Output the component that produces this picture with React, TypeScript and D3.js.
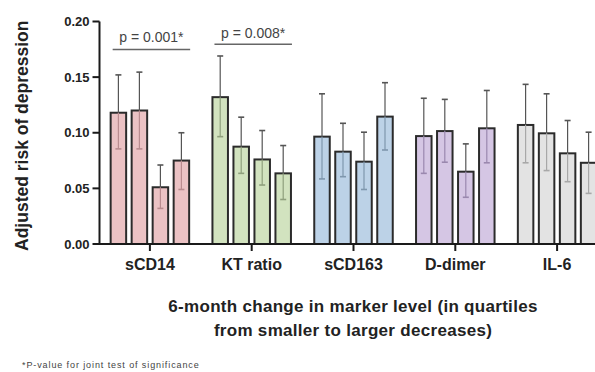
import React from "react";
import * as d3 from "d3";

const categories = ["sCD14", "KT ratio", "sCD163", "D-dimer", "IL-6"];
const quartiles = ["Q1", "Q2", "Q3", "Q4"];
// point estimates per category, Q1..Q4
const values = [
  [0.118, 0.120, 0.051, 0.075],
  [0.132, 0.0875, 0.076, 0.0635],
  [0.0965, 0.083, 0.074, 0.1145],
  [0.097, 0.1015, 0.065, 0.104],
  [0.107, 0.0995, 0.0815, 0.073],
];
const upper = [
  [0.152, 0.1545, 0.071, 0.100],
  [0.169, 0.114, 0.102, 0.0885],
  [0.135, 0.1085, 0.1005, 0.145],
  [0.131, 0.130, 0.090, 0.138],
  [0.1435, 0.135, 0.111, 0.1005],
];
const lower = [
  [0.0855, 0.0855, 0.032, 0.049],
  [0.0965, 0.0635, 0.053, 0.040],
  [0.0585, 0.0605, 0.049, 0.0845],
  [0.0635, 0.0735, 0.042, 0.073],
  [0.073, 0.066, 0.056, 0.0455],
];
const yTicks = [0, 0.05, 0.1, 0.15, 0.2];
const fills = ["#ebc2c4", "#d2e3bf", "#bcd2e7", "#d5c6e4", "#e3e3e3"];
const lowerStroke = ["#b98c8f", "#8fa07d", "#7f97ad", "#9a88ae", "#a8a8a8"];
const pAnnotations = [
  { cat: 0, label: "p = 0.001*", level: 0.1748, textLevel: 0.1816 },
  { cat: 1, label: "p = 0.008*", level: 0.1795, textLevel: 0.1852 },
];

export default function App() {
  const W = 595, H = 372;
  const y = d3.scaleLinear().domain([0, 0.2]).range([244, 21.5]);
  const x = d3.scaleBand<string>().domain(categories).range([99, 608]).padding(0);
  const inner = d3.scaleBand<string>().domain(quartiles).range([-42, 42]).padding(0);
  const barW = 15.5;
  const capW = 6;
  const axisX = 99.5;
  const cx = (c: string) => (x(c) as number) + x.bandwidth() / 2;
  const bx = (c: string, q: string) => cx(c) + (inner(q) as number) + inner.bandwidth() / 2;
  const font = "Liberation Sans, Arial, sans-serif";

  return (
    <svg width={W} height={H} style={{ position: "absolute", left: 0, top: 0, background: "#fff" }} fontFamily={font}>
      {/* bars */}
      {categories.map((c, ci) =>
        quartiles.map((q, qi) => {
          const xc = bx(c, q);
          const v = values[ci][qi];
          return (
            <g key={c + q}>
              <rect x={xc - barW / 2} y={y(v)} width={barW} height={y(0) - y(v)} fill={fills[ci]} stroke="#2b2b2b" strokeWidth={2} />
              <line x1={xc} x2={xc} y1={y(v)} y2={y(upper[ci][qi])} stroke="#555" strokeWidth={1.2} />
              <line x1={xc - capW / 2} x2={xc + capW / 2} y1={y(upper[ci][qi])} y2={y(upper[ci][qi])} stroke="#555" strokeWidth={1.6} />
              <line x1={xc} x2={xc} y1={y(v)} y2={y(lower[ci][qi])} stroke={lowerStroke[ci]} strokeWidth={1.2} />
              <line x1={xc - capW / 2} x2={xc + capW / 2} y1={y(lower[ci][qi])} y2={y(lower[ci][qi])} stroke={lowerStroke[ci]} strokeWidth={1.6} />
            </g>
          );
        })
      )}
      {/* axes */}
      <line x1={axisX} x2={axisX} y1={y(0.2)} y2={y(0) + 1} stroke="#1a1a1a" strokeWidth={2} />
      <line x1={axisX - 1} x2={W} y1={y(0)} y2={y(0)} stroke="#1a1a1a" strokeWidth={2} />
      {yTicks.map((t) => (
        <g key={t}>
          <line x1={axisX - 7} x2={axisX} y1={y(t)} y2={y(t)} stroke="#1a1a1a" strokeWidth={2} />
          <text x={axisX - 10} y={y(t)} dy="0.36em" textAnchor="end" fontSize={13} fontWeight="bold" fill="#222">
            {d3.format(".2f")(t)}
          </text>
        </g>
      ))}
      {categories.map((c) => (
        <g key={c}>
          <line x1={cx(c)} x2={cx(c)} y1={y(0)} y2={y(0) + 7} stroke="#1a1a1a" strokeWidth={2} />
          <text x={cx(c)} y={270} textAnchor="middle" fontSize={16} fontWeight="bold" fill="#222">
            {c}
          </text>
        </g>
      ))}
      {/* p-value annotations */}
      {pAnnotations.map((p) => {
        const c = categories[p.cat];
        const x1 = bx(c, quartiles[0]) - barW / 2 + 2;
        const x2 = bx(c, quartiles[3]) + barW / 2 + 1;
        return (
          <g key={p.label}>
            <line x1={x1} x2={x2} y1={y(p.level)} y2={y(p.level)} stroke="#666" strokeWidth={1.6} />
            <text x={(x1 + x2) / 2} y={y(p.textLevel)} textAnchor="middle" fontSize={14} fill="#444">
              {p.label}
            </text>
          </g>
        );
      })}
      {/* axis titles */}
      <text transform={`translate(28,${(y(0) + y(0.2)) / 2 + 3}) rotate(-90)`} textAnchor="middle" fontSize={17.5} fontWeight="bold" fill="#222">
        Adjusted risk of depression
      </text>
      <text x={353} y={312} textAnchor="middle" fontSize={17} fontWeight="bold" fill="#222" letterSpacing={0.3}>
        6-month change in marker level (in quartiles
      </text>
      <text x={353} y={336} textAnchor="middle" fontSize={17} fontWeight="bold" fill="#222" letterSpacing={0.3}>
        from smaller to larger decreases)
      </text>
      <text x={22} y={368} fontSize={9} fill="#444" letterSpacing={0.9}>
        *P-value for joint test of significance
      </text>
    </svg>
  );
}
